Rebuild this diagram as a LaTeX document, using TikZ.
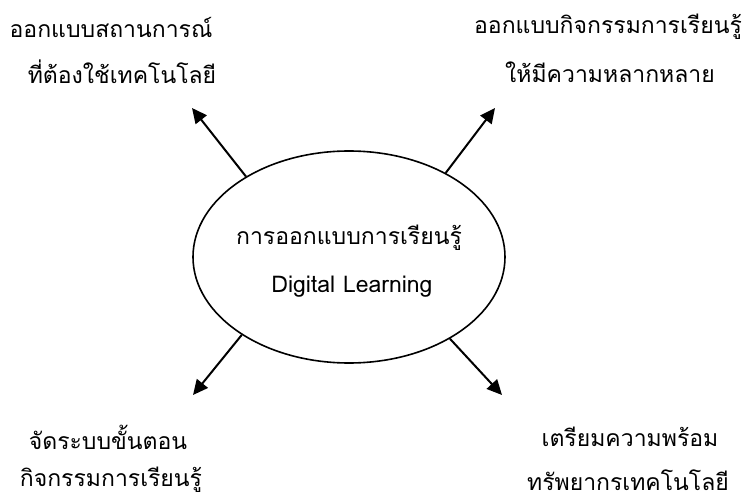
\documentclass[tikz,border=0pt]{standalone}
\usepackage{fontspec}
\setmainfont[Script=Thai]{Loma}
\usetikzlibrary{arrows.meta,shapes.geometric}
\begin{document}
\begin{tikzpicture}[x=1pt,y=-1pt,
  lbl/.style={font=\fontsize{23}{27}\selectfont, inner sep=0pt, anchor=center},
  arr/.style={line width=2pt, -{Triangle[length=15pt,width=14pt]}},
  bubble/.style={ellipse, draw, line width=1.6pt, minimum width=312pt, minimum height=212pt, inner sep=0pt}]
\useasboundingbox (0,0) rectangle (748,500);
\node[bubble] (e) at (349,257) {};
\node[lbl] (c1) at (349,238) {การออกแบบการเรียนรู้};
\node[lbl] (c2) at (352,287) {Digital Learning};
\node[lbl] (tl1) at (111,27) {ออกแบบสถานการณ์};
\node[lbl] (tl2) at (122,72) {ที่ต้องใช้เทคโนโลยี};
\node[lbl] (tr1) at (608,27) {ออกแบบกิจกรรมการเรียนรู้};
\node[lbl] (tr2) at (610,72) {ให้มีความหลากหลาย};
\node[lbl] (bl1) at (108,437) {จัดระบบขั้นตอน};
\node[lbl] (bl2) at (111,480) {กิจกรรมการเรียนรู้};
\node[lbl] (br1) at (630,437) {เตรียมความพร้อม};
\node[lbl] (br2) at (628,480) {ทรัพยากรเทคโนโลยี};
\coordinate (atl) at (192,108);
\coordinate (atr) at (495,108);
\coordinate (abl) at (193,395);
\coordinate (abr) at (502,395);
\draw[arr] (e.142) -- (atl);
\draw[arr] (e.41) -- (atr);
\draw[arr] (e.216) -- (abl);
\draw[arr] (e.321) -- (abr);
\end{tikzpicture}
\end{document}
